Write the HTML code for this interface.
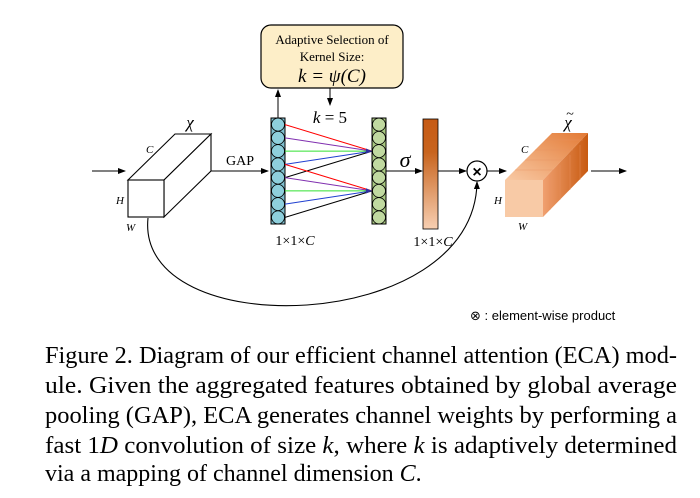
<!DOCTYPE html>
<html><head><meta charset="utf-8"><style>
html,body{margin:0;padding:0;background:#fff;width:700px;height:498px;overflow:hidden}
svg{display:block}
.s{font-family:"Liberation Serif",serif}
</style></head><body>
<svg width="700" height="498" viewBox="0 0 700 498" xmlns="http://www.w3.org/2000/svg">
<defs>
<marker id="a" markerWidth="8" markerHeight="6" refX="7" refY="3" orient="auto" markerUnits="userSpaceOnUse"><path d="M0,0 L8,3 L0,6 z" fill="#000"/></marker>
<linearGradient id="bar" x1="0" y1="0" x2="0" y2="1"><stop offset="0" stop-color="#c65a14"/><stop offset="0.3" stop-color="#c8641e"/><stop offset="1" stop-color="#f7cfb2"/></linearGradient>
<linearGradient id="top" x1="0" y1="1" x2="1" y2="0"><stop offset="0" stop-color="#f8c9a4"/><stop offset="1" stop-color="#e37a35"/></linearGradient>
<linearGradient id="side" x1="0" y1="0" x2="1" y2="0"><stop offset="0" stop-color="#f0a070"/><stop offset="1" stop-color="#c85a10"/></linearGradient>
</defs>
<rect x="261" y="25" width="142" height="63" rx="10" fill="#fdeec8" stroke="#000" stroke-width="1.2"/>
<text class="s" x="332" y="44" font-size="13" text-anchor="middle">Adaptive Selection of</text>
<text class="s" x="332" y="61" font-size="13" text-anchor="middle">Kernel Size:</text>
<text class="s" x="332" y="82" font-size="19" text-anchor="middle" font-style="italic">k = ψ(C)</text>
<line x1="278" y1="118" x2="278" y2="90" stroke="#000" marker-end="url(#a)"/>
<line x1="330" y1="88" x2="330" y2="105" stroke="#000" marker-end="url(#a)"/>
<text class="s" x="330" y="123" font-size="17" text-anchor="middle"><tspan font-style="italic">k</tspan> = 5</text>
<line x1="92" y1="171" x2="125" y2="171" stroke="#000" marker-end="url(#a)"/>
<g fill="#fff" stroke="#000" stroke-width="1.1">
<path d="M128,180 L175,134 L211,134 L164,180 z"/>
<path d="M164,180 L211,134 L211,171 L164,217 z"/>
<rect x="128" y="180" width="36" height="37"/>
</g>
<text class="s" x="190" y="128" font-size="17" font-style="italic" text-anchor="middle">χ</text>
<text class="s" x="146" y="153" font-size="11" font-style="italic">C</text>
<text class="s" x="116" y="204" font-size="11" font-style="italic">H</text>
<text class="s" x="126" y="231" font-size="11" font-style="italic">W</text>
<line x1="211" y1="171" x2="268" y2="171" stroke="#000" marker-end="url(#a)"/>
<text class="s" x="240" y="165" font-size="14" text-anchor="middle">GAP</text>
<rect x="271" y="118" width="14" height="106" fill="#7fbfcf" stroke="#000"/>
<g fill="#8ecfdc" stroke="#000" stroke-width="0.8">
<circle cx="278" cy="124.6" r="6.5"/><circle cx="278" cy="137.9" r="6.5"/><circle cx="278" cy="151.1" r="6.5"/><circle cx="278" cy="164.4" r="6.5"/><circle cx="278" cy="177.6" r="6.5"/><circle cx="278" cy="190.9" r="6.5"/><circle cx="278" cy="204.1" r="6.5"/><circle cx="278" cy="217.4" r="6.5"/>
</g>
<rect x="372" y="118" width="14" height="106" fill="#a8c880" stroke="#000"/>
<g fill="#c0d9a0" stroke="#000" stroke-width="0.8">
<circle cx="379" cy="124.6" r="6.5"/><circle cx="379" cy="137.9" r="6.5"/><circle cx="379" cy="151.1" r="6.5"/><circle cx="379" cy="164.4" r="6.5"/><circle cx="379" cy="177.6" r="6.5"/><circle cx="379" cy="190.9" r="6.5"/><circle cx="379" cy="204.1" r="6.5"/><circle cx="379" cy="217.4" r="6.5"/>
</g>
<g stroke-width="1">
<line x1="285" y1="124.6" x2="372" y2="151.1" stroke="#ff0000"/>
<line x1="285" y1="137.9" x2="372" y2="151.1" stroke="#8030b0"/>
<line x1="285" y1="151.1" x2="372" y2="151.1" stroke="#30e030"/>
<line x1="285" y1="164.4" x2="372" y2="151.1" stroke="#2040d0"/>
<line x1="285" y1="177.6" x2="372" y2="151.1" stroke="#000"/>
<line x1="285" y1="164.4" x2="372" y2="190.9" stroke="#ff0000"/>
<line x1="285" y1="177.6" x2="372" y2="190.9" stroke="#8030b0"/>
<line x1="285" y1="190.9" x2="372" y2="190.9" stroke="#30e030"/>
<line x1="285" y1="204.1" x2="372" y2="190.9" stroke="#2040d0"/>
<line x1="285" y1="217.4" x2="372" y2="190.9" stroke="#000"/>
</g>
<path d="M366,148.5 L372,151.1 L366,153.7z M366,188.3 L372,190.9 L366,193.5z" fill="#3030a0"/>
<text class="s" x="295" y="245" font-size="14" text-anchor="middle">1×1×<tspan font-style="italic">C</tspan></text>
<line x1="386" y1="171" x2="422" y2="171" stroke="#000" marker-end="url(#a)"/>
<text class="s" x="405" y="167" font-size="22" font-style="italic" text-anchor="middle">σ</text>
<rect x="423" y="119" width="15" height="110" fill="url(#bar)" stroke="#000" stroke-width="0.8"/>
<text class="s" x="433" y="246" font-size="14" text-anchor="middle">1×1×<tspan font-style="italic">C</tspan></text>
<line x1="438" y1="171" x2="466" y2="171" stroke="#000" marker-end="url(#a)"/>
<circle cx="477" cy="171" r="10" fill="#fff" stroke="#000" stroke-width="1.2"/>
<text x="477" y="177" font-family="Liberation Sans,sans-serif" font-size="16" font-weight="bold" text-anchor="middle">×</text>
<line x1="487" y1="171" x2="506" y2="171" stroke="#000" marker-end="url(#a)"/>
<path d="M148,218 C135,345 475,335 477,182" fill="none" stroke="#000" stroke-width="1.1" marker-end="url(#a)"/>
<path d="M505,180 L552,133 L588,133 L543,180 z" fill="url(#top)"/>
<path d="M543,180 L588,133 L588,171 L543,217 z" fill="url(#side)"/>
<rect x="505" y="180" width="38" height="37" fill="#f8caa6"/>
<g stroke="#e89060" stroke-width="0.6" opacity="0.7">
<line x1="515" y1="170" x2="553" y2="170"/><line x1="525" y1="160" x2="563" y2="160"/><line x1="535" y1="150" x2="573" y2="150"/><line x1="545" y1="140" x2="583" y2="140"/>
<line x1="550" y1="175" x2="550" y2="210"/><line x1="560" y1="165" x2="560" y2="200"/><line x1="570" y1="155" x2="570" y2="190"/><line x1="580" y1="145" x2="580" y2="180"/>
</g>
<text class="s" x="568" y="128" font-size="17" font-style="italic" text-anchor="middle">χ</text>
<text class="s" x="570" y="118" font-size="14" text-anchor="middle">~</text>
<text class="s" x="521" y="153" font-size="11" font-style="italic">C</text>
<text class="s" x="494" y="204" font-size="11" font-style="italic">H</text>
<text class="s" x="518" y="230" font-size="11" font-style="italic">W</text>
<line x1="591" y1="171" x2="626" y2="171" stroke="#000" marker-end="url(#a)"/>
<text x="470" y="320" font-family="Liberation Sans,'DejaVu Sans',sans-serif" font-size="13">⊗ : element-wise product</text>
<g class="s" font-size="24">
<text x="45" y="363" textLength="632" lengthAdjust="spacingAndGlyphs">Figure 2. Diagram of our efficient channel attention (ECA) mod-</text>
<text x="45" y="393" textLength="632" lengthAdjust="spacingAndGlyphs">ule.  Given the aggregated features obtained by global average</text>
<text x="45" y="423" textLength="632" lengthAdjust="spacingAndGlyphs">pooling (GAP), ECA generates channel weights by performing a</text>
<text x="45" y="453" textLength="632" lengthAdjust="spacingAndGlyphs">fast 1<tspan font-style="italic">D</tspan> convolution of size <tspan font-style="italic">k</tspan>, where <tspan font-style="italic">k</tspan> is adaptively determined</text>
<text x="45" y="481">via a mapping of channel dimension <tspan font-style="italic">C</tspan>.</text>
</g>
</svg>
</body></html>
